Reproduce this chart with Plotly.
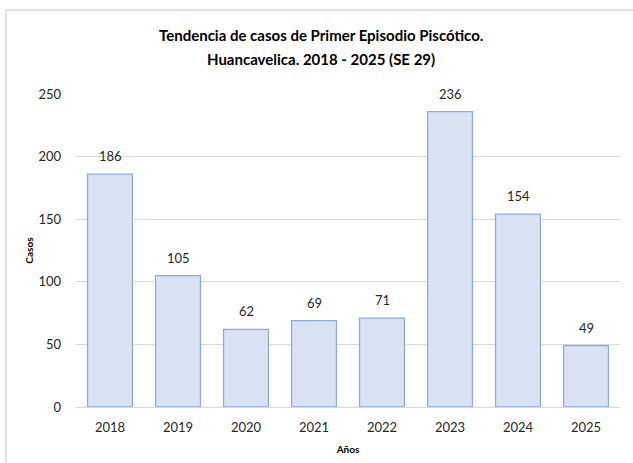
import plotly.graph_objects as go

# Casos anuales de primer episodio psicótico
anios = ["2018", "2019", "2020", "2021", "2022", "2023", "2024", "2025"]
casos = [186, 105, 62, 69, 71, 236, 154, 49]
titulo = ["Tendencia de casos de Primer Episodio Piscótico.",
          "Huancavelica. 2018 - 2025 (SE 29)"]

W, H = 633, 463
ml, mr, mt, mb = 76, 13, 94, 56
FONT = "Lato, Open Sans, sans-serif"
pw = W - ml - mr  # ancho del área de trazado
ph = H - mt - mb  # alto del área de trazado


def x_paper(px):
    """Convierte una posición horizontal en píxeles a coordenada 'paper'."""
    return (px - ml) / pw


def y_paper(py):
    """Convierte una posición vertical en píxeles a coordenada 'paper'."""
    return 1 + (mt - py) / ph


fig = go.Figure(
    go.Bar(
        x=anios,
        y=casos,
        marker=dict(color="#dae3f3", line=dict(color="#8eaadb", width=1.3)),
        width=0.66,
    )
)

# etiquetas de valor sobre cada barra (x = índice de categoría)
for i, v in enumerate(casos):
    fig.add_annotation(
        x=i, y=v, xref="x", yref="y", text=str(v), showarrow=False,
        yanchor="middle", yshift=18,
        font=dict(family=FONT, size=13, color="#262626"),
    )

# título en dos líneas, centrado en el gráfico completo
for i, t in enumerate(titulo):
    fig.add_annotation(
        x=x_paper(321), y=y_paper(35 + 24 * i), xref="paper", yref="paper",
        xanchor="center", yanchor="middle", text=t, showarrow=False,
        font=dict(family=FONT, size=15, color="#000000", weight="bold"),
    )

fig.update_layout(
    width=W,
    height=H,
    margin=dict(l=ml, r=mr, t=mt, b=mb, autoexpand=False),
    paper_bgcolor="white",
    plot_bgcolor="white",
    showlegend=False,
    xaxis=dict(
        type="category",
        range=[-0.5, len(anios) - 0.5],
        automargin=False,
        title=dict(text="Años", font=dict(family=FONT, size=10, color="#000000", weight="bold"), standoff=12),
        tickfont=dict(family=FONT, size=13, color="#262626"),
        ticklabelstandoff=8,
        showline=True,
        linecolor="#d9d9d9",
        linewidth=1,
        ticks="",
    ),
    yaxis=dict(
        automargin=False,
        title=dict(text="Casos", font=dict(family=FONT, size=10, color="#000000", weight="bold"), standoff=2),
        tickfont=dict(family=FONT, size=13, color="#262626"),
        ticklabelstandoff=14,
        range=[0, 250],
        dtick=50,
        showgrid=True,
        gridcolor="#d9d9d9",
        gridwidth=1,
        zeroline=False,
        ticks="",
    ),
    bargap=0.34,
)

# marco del gráfico
fig.add_shape(
    type="rect", xref="paper", yref="paper",
    x0=x_paper(6), x1=x_paper(W + 20),
    y0=y_paper(H + 20), y1=y_paper(10),
    line=dict(color="#d9d9d9", width=1.5), fillcolor="rgba(0,0,0,0)", layer="below",
)

fig.write_html("out.html")
